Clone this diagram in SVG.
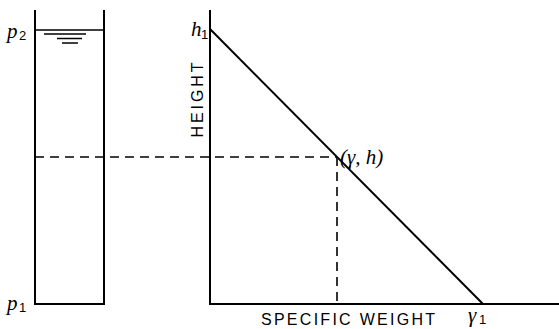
<svg xmlns="http://www.w3.org/2000/svg" width="559" height="329" viewBox="0 0 559 329">
<style>
.l{stroke:#000;stroke-width:2;fill:none}
.t{stroke:#000;stroke-width:1.5;fill:none}
.d{stroke:#000;stroke-width:1.6;fill:none;stroke-dasharray:9,6}
.s{font-family:"Liberation Sans",Arial,sans-serif;font-size:16px;fill:#000}
.i{font-family:"Liberation Serif","Times New Roman",serif;font-style:italic;font-size:21px;fill:#000}
.sub{font-family:"Liberation Sans",Arial,sans-serif;font-size:13px;fill:#000}
</style>
<rect width="559" height="329" fill="#fff"/>
<g id="tank">
<path class="l" d="M35,10 V304 H104 V10"/>
<line class="t" x1="35" y1="30" x2="104" y2="30"/>
<line class="t" x1="44" y1="34" x2="86" y2="34"/>
<line class="t" x1="57" y1="38.5" x2="82" y2="38.5"/>
<line class="t" x1="62" y1="43" x2="78" y2="43"/>
<text class="i" x="7" y="38">p</text><text class="sub" x="19" y="40">2</text>
<text class="i" x="7" y="310">p</text><text class="sub" x="19" y="312">1</text>
</g>
<g id="axes">
<line class="l" x1="210" y1="10" x2="210" y2="305"/>
<line class="l" x1="209" y1="304" x2="559" y2="304"/>
<text class="s" transform="translate(203,100) rotate(-90)" text-anchor="middle" textLength="75" lengthAdjust="spacing">HEIGHT</text>
<text class="s" x="261" y="325" textLength="174" lengthAdjust="spacing">SPECIFIC WEIGHT</text>
<text class="i" x="468" y="322">γ</text><text class="sub" x="479" y="324">1</text>
<text class="i" x="191" y="36">h</text><text class="sub" x="201" y="39">1</text>
</g>
<g id="line">
<line class="l" x1="210" y1="29" x2="483" y2="304"/>
<text class="i" x="340" y="164">(γ, h)</text>
</g>
<g id="connectors">
<line class="d" x1="35" y1="157" x2="337" y2="157"/>
<line class="d" x1="337" y1="157" x2="337" y2="304"/>
</g>
</svg>
